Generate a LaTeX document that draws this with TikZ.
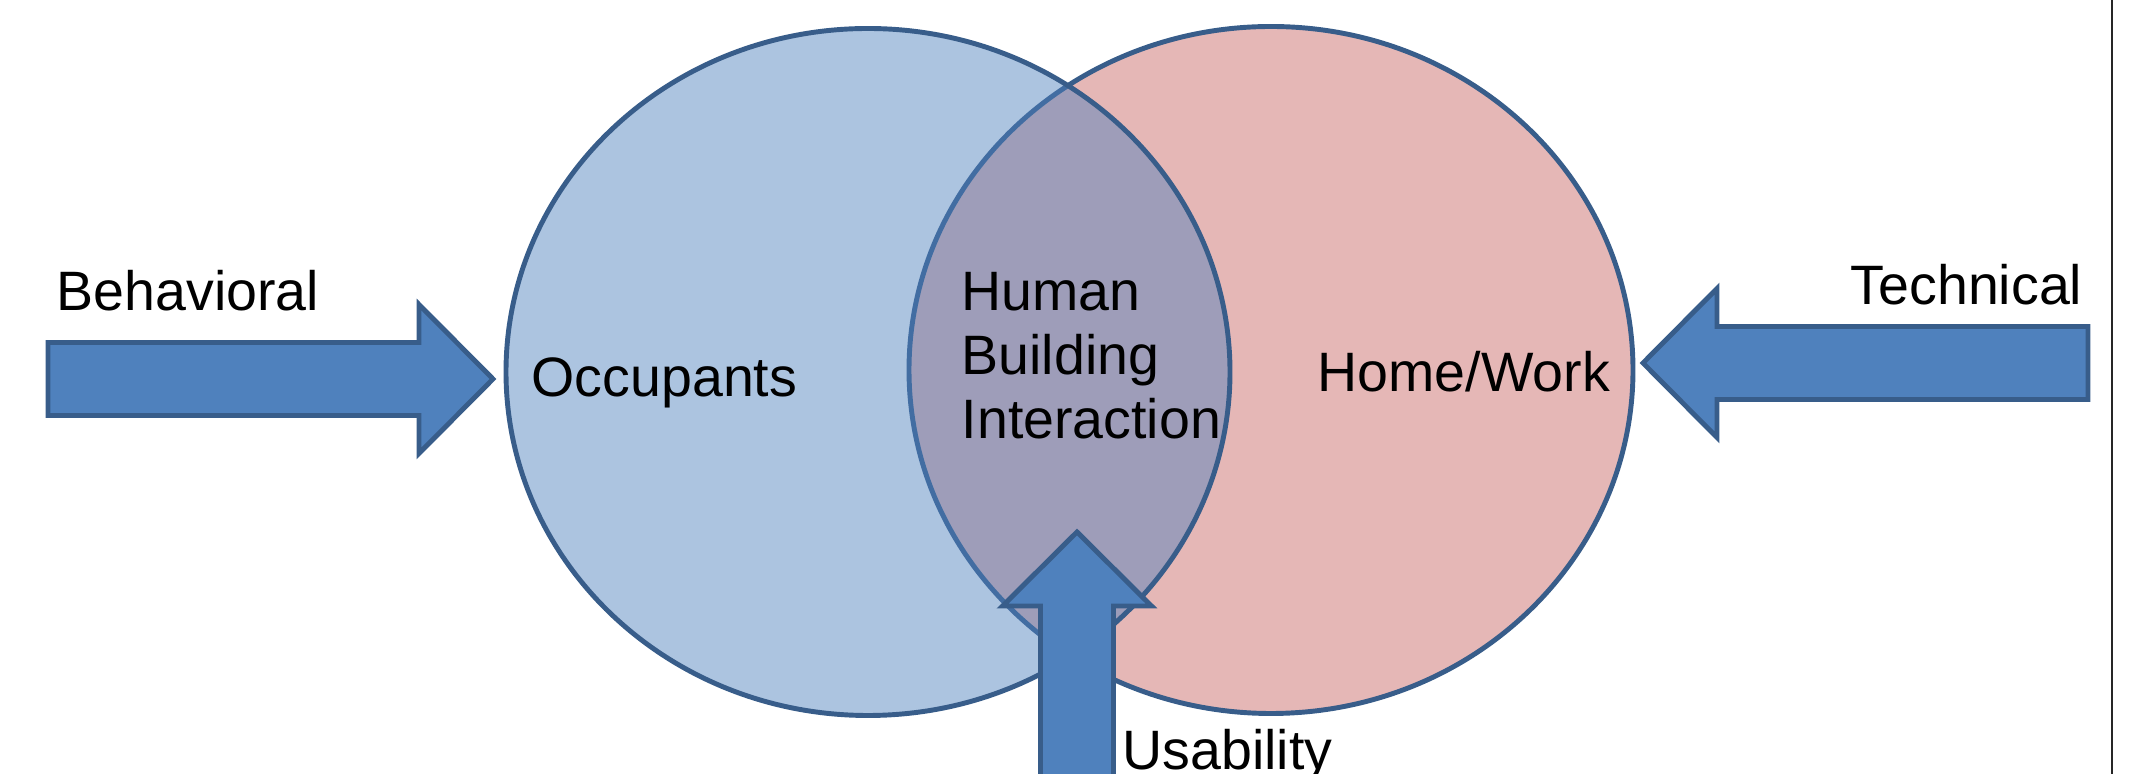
\documentclass[tikz,border=0pt]{standalone}
\usepackage{fontspec}
\setmainfont{Liberation Sans}
\usepackage{tikz}
\usepackage{xcolor}
\usetikzlibrary{calc,positioning}

\definecolor{occblue}{HTML}{4F81BD}
\definecolor{homered}{HTML}{C0504D}
\definecolor{edgeblue}{HTML}{385D8A}

\begin{document}
\begin{tikzpicture}[font=\fontsize{15.8}{18.3}\selectfont,
    blockarrow/.style={fill=occblue, draw=edgeblue, line width=1.4pt, line join=miter},
    lbl/.style={inner sep=0pt, anchor=base west}]
  \useasboundingbox (0,0) rectangle (21.3,7.74);
  \clip (0,0) rectangle (21.3,7.74);
  \def\rx{3.62}
  \def\ry{3.435}
  \def\sw{0.365} % half shaft width
  \def\hw{0.745} % half head width
  \def\hl{0.74}  % head length
  \def\len{3.71} % shaft length

  \coordinate (occ) at (8.68,4.02);
  \coordinate (home) at (12.71,4.04);

  % home/work set
  \fill[homered, fill opacity=0.41] (home) ellipse [x radius=\rx, y radius=\ry];
  \draw[edgeblue, line width=1.4pt] (home) ellipse [x radius=\rx, y radius=\ry];
  % occupants set, laid over it
  \fill[occblue, fill opacity=0.47] (occ) ellipse [x radius=\rx, y radius=\ry];
  \draw[edgeblue, line width=1.4pt] (occ) ellipse [x radius=\rx, y radius=\ry];

  % set names (base of a multi-line node sits on its last line)
  \node[lbl] (occtext) at (5.31,3.77) {Occupants};
  \node[lbl] (hometext) at (13.17,3.82) {Home/Work};
  \node[lbl, align=left] (hbi) at (9.61,3.35) {Human\\Building\\Interaction};

  % behavioral arrow
  \coordinate (btip) at (4.93,3.95);
  \draw[blockarrow] (btip) -- ++(-\hl,\hw) -- ++(0,\sw-\hw) -- ++(-\len,0)
    -- ++(0,-2*\sw) -- ++(\len,0) -- ++(0,\sw-\hw) -- cycle;
  \node[lbl] (behav) at (0.56,4.63) {Behavioral};

  % technical arrow
  \coordinate (ttip) at (16.43,4.11);
  \draw[blockarrow] (ttip) -- ++(\hl,\hw) -- ++(0,\sw-\hw) -- ++(\len,0)
    -- ++(0,-2*\sw) -- ++(-\len,0) -- ++(0,\sw-\hw) -- cycle;
  \node[lbl] (tech) at (18.50,4.69) {Technical};

  % usability arrow, runs off the bottom
  \coordinate (utip) at (10.77,2.42);
  \draw[blockarrow] (utip) -- ++(\hw,-\hl) -- ++(\sw-\hw,0) -- ++(0,-1.9)
    -- ++(-2*\sw,0) -- ++(0,1.9) -- ++(\sw-\hw,0) -- cycle;
  \node[lbl] (usab) at (11.22,0.04) {Usability};

  % page edge
  \draw[black!85, line width=0.6pt] (21.12,0) -- (21.12,7.74);
\end{tikzpicture}
\end{document}
